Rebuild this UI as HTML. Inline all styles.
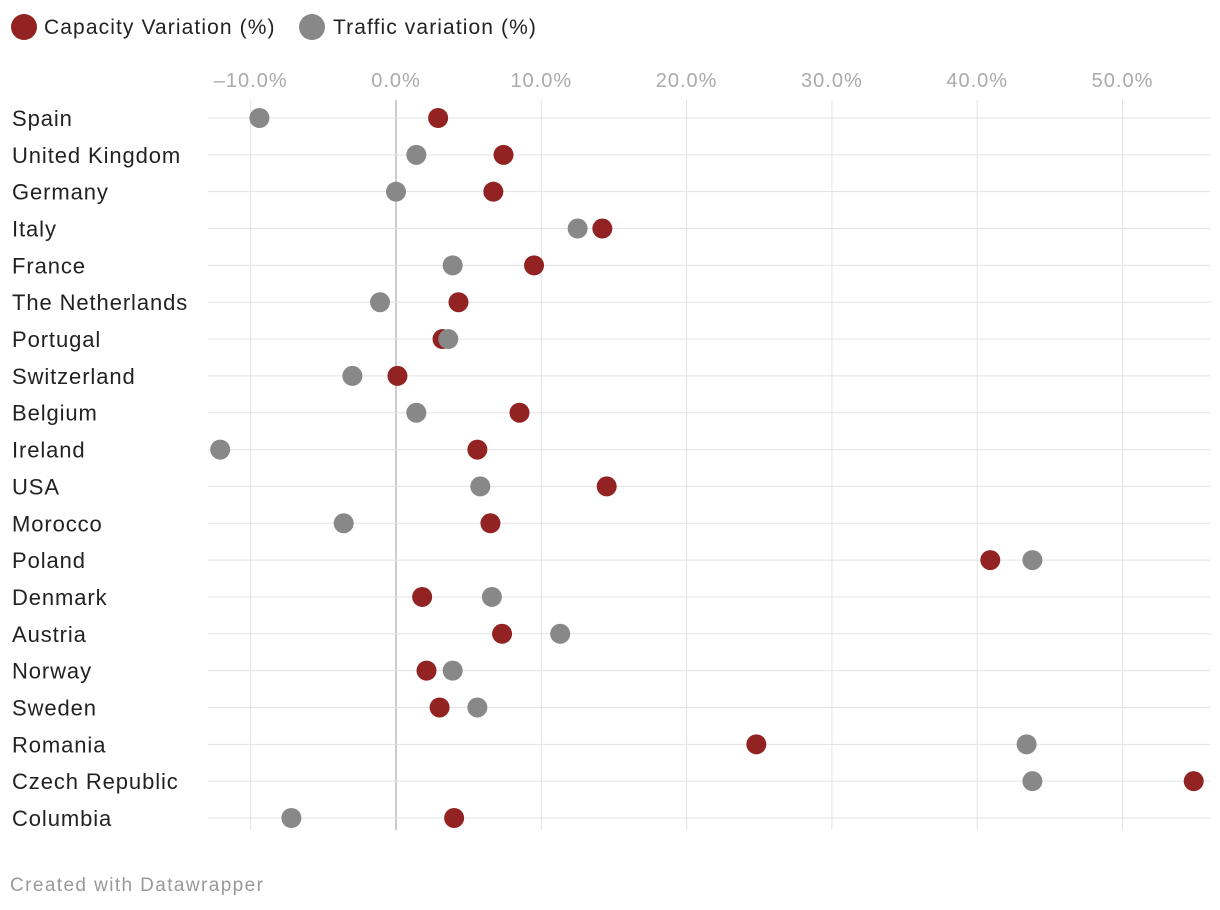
<!DOCTYPE html>
<html><head><meta charset="utf-8"><style>
body{margin:0;background:#fff;font-family:"Liberation Sans",sans-serif;}
svg{display:block}
</style></head><body>
<svg id="c" width="1220" height="910">
<g>
<circle cx="24" cy="27" r="13" fill="#922322"/>
<text x="44" y="34" font-size="21" letter-spacing="1.1" fill="#222">Capacity Variation (%)</text>
<circle cx="312" cy="27" r="13" fill="#888"/>
<text x="333" y="34" font-size="21" letter-spacing="1.1" fill="#222">Traffic variation (%)</text>
</g>
<text x="10" y="891" font-size="19" letter-spacing="1.4" fill="#999">Created with Datawrapper</text>
</svg>
<script>
const categories=["Spain","United Kingdom","Germany","Italy","France","The Netherlands","Portugal","Switzerland","Belgium","Ireland","USA","Morocco","Poland","Denmark","Austria","Norway","Sweden","Romania","Czech Republic","Columbia"];
const capacity=[2.9,7.4,6.7,14.2,9.5,4.3,3.2,0.1,8.5,5.6,14.5,6.5,40.9,1.8,7.3,2.1,3.0,24.8,54.9,4.0];
const traffic=[-9.4,1.4,0.0,12.5,3.9,-1.1,3.6,-3.0,1.4,-12.1,5.8,-3.6,43.8,6.6,11.3,3.9,5.6,43.4,43.8,-7.2];
const ticks=[-10,0,10,20,30,40,50];
const tickLabels=["\u201310.0%","0.0%","10.0%","20.0%","30.0%","40.0%","50.0%"];
const NS="http://www.w3.org/2000/svg";
const svg=document.getElementById('c');
const x=v=>396+v*14.53;
const y=i=>118+i*(700/19);
function mk(t,a){const e=document.createElementNS(NS,t);for(const k in a)e.setAttribute(k,a[k]);svg.appendChild(e);return e;}
ticks.forEach((t,i)=>{
  const l=mk('line',{x1:x(t),x2:x(t),y1:100,y2:830,stroke:t===0?'#bbb':'#e3e3e3','stroke-width':t===0?1.5:1});
  
  
  const tx=mk('text',{x:x(t),y:87,'font-size':20,'letter-spacing':1,fill:'#aaa','text-anchor':'middle'});
  tx.textContent=tickLabels[i];
  
  
});
categories.forEach((c,i)=>{
  const l=mk('line',{x1:208,x2:1210,y1:y(i),y2:y(i),stroke:'#e3e3e3','stroke-width':1});
  
  
  const t=mk('text',{x:12,y:y(i)+8,'font-size':22,'letter-spacing':0.9,fill:'#222'});
  t.textContent=c;
  
  
});
categories.forEach((c,i)=>{
  const a=mk('circle',{cx:x(capacity[i]),cy:y(i),r:10,fill:'#922322'});
  
  
  const b=mk('circle',{cx:x(traffic[i]),cy:y(i),r:10,fill:'#888'});
  
  
});
</script>
</body></html>
